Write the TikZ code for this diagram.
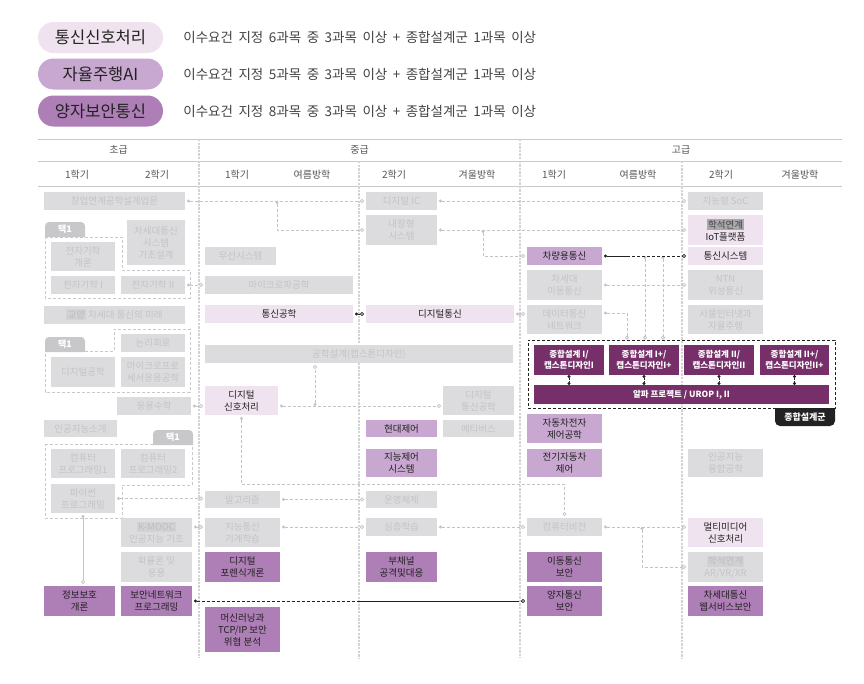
\documentclass[tikz,border=0pt]{standalone}
\usepackage{fontspec}
\setmainfont{Noto Sans CJK KR}
\usepackage{xcolor}
\usetikzlibrary{arrows.meta, positioning}

\definecolor{boxgray}{HTML}{DCDCDE}
\definecolor{txtgray}{HTML}{C4C4C6}
\definecolor{taggray}{HTML}{D2D2D4}
\definecolor{tagtxt}{HTML}{BDBDBF}
\definecolor{tagmid}{HTML}{A8A8AA}
\definecolor{pinkbg}{HTML}{F0E3F0}
\definecolor{lilac}{HTML}{C8A7D1}
\definecolor{purp}{HTML}{AE7EB6}
\definecolor{darkpurp}{HTML}{772F6A}
\definecolor{linegray}{HTML}{C4C4C6}
\definecolor{rulegray}{HTML}{C9C9CB}
\definecolor{divgray}{HTML}{D4D4D6}
\definecolor{tabgray}{HTML}{C8C8CA}
\definecolor{inkdark}{HTML}{222222}
\definecolor{hdrtxt}{HTML}{555555}
\definecolor{notetxt}{HTML}{444444}

\newcommand{\hltag}[3]{{\setlength{\fboxsep}{1.2pt}\colorbox{#1}{\textcolor{#2}{#3}}}}

\begin{document}
\begin{tikzpicture}[
  x=1pt, y=-1pt,
  font=\fontsize{9.5}{12}\selectfont,
  box/.style={minimum height=18pt, inner sep=0pt, outer sep=2pt, align=center},
  gbox/.style={box, fill=boxgray, text=txtgray},
  pbox/.style={box, fill=pinkbg, text=inkdark},
  lbox/.style={box, fill=lilac, text=inkdark},
  qbox/.style={box, fill=purp, text=inkdark},
  dbox/.style={box, outer sep=0pt, fill=darkpurp, text=white, font=\fontsize{8.5}{11}\selectfont\bfseries},
  wd/.style={minimum width=#1},
  ht/.style={minimum height=#1},
  pill/.style={rounded corners=15.5pt, minimum width=125pt, minimum height=31pt,
    inner sep=0pt, text=inkdark, font=\fontsize{16.5}{20}\selectfont},
  note/.style={inner sep=0pt, text=notetxt, font={\fontsize{13.5}{16}\selectfont\spaceskip=5.5pt plus 1pt}},
  hdr/.style={text=hdrtxt, font=\fontsize{10}{12}\selectfont},
  rule/.style={draw=rulegray, line width=0.8pt},
  divider/.style={draw=divgray, line width=2.6pt, dash pattern=on 2.4pt off 1.2pt},
  grp/.style={draw=rulegray, line width=0.8pt, dash pattern=on 3pt off 2pt},
  tabtxt/.style={text=white, font=\fontsize{9}{11}\selectfont\bfseries},
  link/.style={draw=linegray, line width=0.8pt, dash pattern=on 3pt off 2pt,
    {Circle[length=3pt]}-{Circle[open, length=4pt]}},
  blink/.style={link, draw=inkdark},
  stub/.style={draw=inkdark, line width=0.8pt, dash pattern=on 2pt off 1.5pt,
    {Circle[length=3pt]}-{Circle[length=3pt]}}
]
\fill[white, use as bounding box] (0,0) rectangle (864,683);

% Legend
\node[pill, fill=pinkbg] (p1) at (100.5,37.5) {통신신호처리};
\node[pill, fill=lilac] (p2) at (100.5,74) {자율주행AI};
\node[pill, fill=purp] (p3) at (100.5,111) {양자보안통신};
\node[note, right=20pt of p1] (n1) {이수요건 지정 6과목 중 3과목 이상 + 종합설계군 1과목 이상};
\node[note, right=20pt of p2] (n2) {이수요건 지정 5과목 중 3과목 이상 + 종합설계군 1과목 이상};
\node[note, right=20pt of p3] (n3) {이수요건 지정 8과목 중 3과목 이상 + 종합설계군 1과목 이상};

% Header
\draw[rule] (38,139) -- (842,139);
\draw[rule] (38,161) -- (842,161);
\draw[rule] (38,186) -- (842,186);
\node[hdr] (lvA) at (118.5,150) {초급};
\node[hdr] (lvB) at (359.5,150) {중급};
\node[hdr] (lvC) at (681,150) {고급};
\node[hdr] (s1) at (77,175) {1학기};
\node[hdr] (s2) at (157,175) {2학기};
\node[hdr] (s3) at (237,175) {1학기};
\node[hdr] (s4) at (312,175) {여름방학};
\node[hdr] (s5) at (394,175) {2학기};
\node[hdr] (s6) at (477,175) {겨울방학};
\node[hdr] (s7) at (554,175) {1학기};
\node[hdr] (s8) at (638,175) {여름방학};
\node[hdr] (s9) at (721,175) {2학기};
\node[hdr] (s10) at (800,175) {겨울방학};

\foreach \x/\y [count=\i] in {199/139, 359/161, 520/139, 682/161}
  \draw[divider] (\x,\y) coordinate (dv\i) -- (\x,658);

% 택1 groups
\draw[grp] (45,237) -- (122,237) -- (122,270) -- (190,270) -- (190,298) -- (45,298) -- cycle;
\draw[grp] (45,351) -- (114,351) -- (114,329) -- (190,329) -- (190,392) -- (45,392) -- cycle;
\draw[grp] (45,444) -- (192,444) -- (192,485) -- (122,485) -- (122,518) -- (45,518) -- cycle;
\foreach \x/\y [count=\i] in {45/222, 45/337, 153/430} {
  \fill[tabgray] (\x,\y+15) -- (\x,\y+4) arc[start angle=180, end angle=90, radius=4pt]
    -- (\x+36,\y) arc[start angle=90, end angle=0, radius=4pt] -- (\x+40,\y+15) -- cycle;
  \node[tabtxt] (tab\i) at (\x+20,\y+7.5) {택1};
}

% Nodes: 초급
\node[gbox, wd=141pt] (cy) at (114.5,201) {창업연계공학설계입문};
\node[gbox, wd=58pt, ht=45pt] (ns) at (156,242.5) {차세대통신\\시스템\\기초설계};
\node[gbox, wd=64pt, ht=29pt] (ea) at (83,256.5) {전자기학\\개론};
\node[gbox, wd=64pt] (e1) at (83,285) {전자기학 I};
\node[gbox, wd=64pt] (e2) at (153,285) {전자기학 II};
\node[gbox, wd=141pt] (gy) at (114.5,314.5) {\hltag{taggray}{tagtxt}{교양} 차세대 통신의 미래};
\node[gbox, wd=64pt] (lc) at (153,343) {논리회로};
\node[gbox, wd=64pt, ht=30pt] (dg) at (83,372) {디지털공학};
\node[gbox, wd=64pt, ht=30pt] (mp) at (153,372) {마이크로프로\\세서응용공학};
\node[gbox, wd=74pt] (am) at (154,406) {응용수학};
\node[gbox, wd=73pt, ht=17pt] (ai) at (80.5,428.5) {인공지능소개};
\node[gbox, wd=64pt, ht=29pt] (cp1) at (83,463.5) {컴퓨터\\프로그래밍1};
\node[gbox, wd=64pt, ht=29pt] (cp2) at (153,463.5) {컴퓨터\\프로그래밍2};
\node[gbox, wd=64pt, ht=29pt] (py) at (83,498.5) {파이썬\\프로그래밍};
\node[gbox, wd=71pt, ht=29pt] (km) at (156.5,532.5) {\hltag{taggray}{tagtxt}{K-MOOC}\\인공지능 기초};
\node[gbox, wd=71pt, ht=30pt] (pr) at (156.5,567) {확률론 및\\응용};
\node[qbox, wd=71pt, ht=30pt] (ib) at (79.5,601) {정보보호\\개론};
\node[qbox, wd=71pt, ht=30pt] (bn) at (156.5,601) {보안네트워크\\프로그래밍};

% Nodes: 중급
\node[gbox, wd=71pt] (ws) at (240.5,256) {무선시스템};
\node[gbox, wd=148pt] (mw) at (279,285) {마이크로파공학};
\node[pbox, wd=148pt] (tc) at (279,314) {통신공학};
\node[gbox, wd=308pt] (gd) at (359,354) {공학설계(캡스톤디자인)};
\node[pbox, wd=73pt, ht=29pt] (dsp) at (241.5,400.5) {디지털\\신호처리};
\node[gbox, wd=75pt, ht=17pt] (alg) at (242.5,499.5) {알고리즘};
\node[gbox, wd=75pt, ht=29pt] (ml) at (242.5,532.5) {지능통신\\기계학습};
\node[qbox, wd=75pt, ht=30pt] (df) at (242.5,567) {디지털\\포렌식개론};
\node[qbox, wd=75pt, ht=45pt] (mt) at (242.5,629.5) {머신러닝과\\TCP/IP 보안\\위협 분석};
\node[gbox, wd=71pt] (dic) at (401.5,201) {디지털 IC};
\node[gbox, wd=71pt, ht=30pt] (nj) at (401.5,230) {내장형\\시스템};
\node[pbox, wd=148pt] (dc) at (440,314) {디지털통신};
\node[gbox, wd=71pt, ht=29pt] (dce) at (478.5,400.5) {디지털\\통신공학};
\node[lbox, wd=71pt, ht=17pt] (mc) at (401.5,428.5) {현대제어};
\node[gbox, wd=71pt, ht=17pt] (mv) at (478.5,428.5) {메타버스};
\node[lbox, wd=71pt, ht=28pt] (ic) at (401.5,463) {지능제어\\시스템};
\node[gbox, wd=71pt, ht=17pt] (os) at (401.5,499.5) {운영체제};
\node[gbox, wd=71pt] (dl) at (401.5,527) {심층학습};
\node[qbox, wd=71pt, ht=30pt] (sc) at (401.5,567) {부채널\\공격및대응};

% Nodes: 고급
\node[lbox, wd=75pt] (cr) at (564.5,256) {차량용통신};
\node[gbox, wd=75pt, ht=30pt] (nm) at (564.5,285) {차세대\\이동통신};
\node[gbox, wd=75pt, ht=29pt] (dn) at (564.5,319.5) {데이터통신\\네트워크};
\node[lbox, wd=75pt, ht=29pt] (ae) at (564.5,428.5) {자동차전자\\제어공학};
\node[lbox, wd=75pt, ht=28pt] (ev) at (564.5,463) {전기자동차\\제어};
\node[gbox, wd=75pt] (cv) at (564.5,527) {컴퓨터비전};
\node[qbox, wd=75pt, ht=30pt] (ms) at (564.5,567) {이동통신\\보안};
\node[qbox, wd=75pt, ht=30pt] (qs) at (564.5,601) {양자통신\\보안};
\node[gbox, wd=75pt] (soc) at (725.5,201) {지능형 SoC};
\node[pbox, wd=75pt, ht=30pt] (iot) at (725.5,230) {\hltag{tagmid}{notetxt}{학석연계}\\IoT플랫폼};
\node[pbox, wd=75pt] (cs) at (725.5,256) {통신시스템};
\node[gbox, wd=75pt, ht=30pt] (ntn) at (725.5,285) {NTN\\위성통신};
\node[gbox, wd=75pt, ht=29pt] (it) at (725.5,319.5) {사물인터넷과\\자율주행};
\node[gbox, wd=75pt, ht=28pt] (ac) at (725.5,463) {인공지능\\융합공학};
\node[pbox, wd=75pt, ht=29pt] (mm) at (725.5,532.5) {멀티미디어\\신호처리};
\node[gbox, wd=75pt, ht=30pt] (ar) at (725.5,567) {\hltag{taggray}{tagtxt}{학석연계}\\AR/VR/XR};
\node[qbox, wd=75pt, ht=30pt] (nw) at (725.5,601) {차세대통신\\웹서비스보안};

% 종합설계군
\node[draw=inkdark, line width=0.8pt, dash pattern=on 3pt off 2pt, minimum width=307pt,
  minimum height=68pt, inner sep=0pt] (zgrp) at (681.5,374) {};
\node[dbox, wd=70pt, ht=30pt] (z1) at (569,360) {종합설계 I/\\캡스톤디자인I};
\node[dbox, wd=70pt, ht=30pt] (z2) at (644,360) {종합설계 I+/\\캡스톤디자인I+};
\node[dbox, wd=70pt, ht=30pt] (z3) at (719,360) {종합설계 II/\\캡스톤디자인II};
\node[dbox, wd=69pt, ht=30pt] (z4) at (794.5,360) {종합설계 II+/\\캡스톤디자인II+};
\node[dbox, wd=295pt, ht=19pt] (ap) at (681.5,394.5) {알파 프로젝트 / UROP I, II};
\fill[inkdark] (775,408) -- (775,421) arc[start angle=180, end angle=270, radius=5pt]
  -- (830,426) arc[start angle=270, end angle=360, radius=5pt] -- (835,408) -- cycle;
\node[tabtxt] (zlbl) at (805,417) {종합설계군};

% Pointers
\coordinate (j1) at (277,201);
\coordinate (j2) at (483,230);
\coordinate (j3) at (315,406);
\coordinate (j5) at (642,527);
\coordinate (j6) at (645,256);
\coordinate (j7) at (663,256);
\coordinate (dnx) at ([xshift=-54.5pt]zgrp.north);

\draw[link] (cy.east) -- (dic.west);
\draw[link] (j1) |- (nj.west);
\draw[link] (dic.east) -- (soc.west);
\draw[link] (nj.east) -- (iot.west);
\draw[link] (j2) |- (cr.west);
\draw[link] (e2.east) -- (mw.west);
\draw[blink] (tc.east) -- (dc.west);
\draw[link] (dc.east) -- (dc.east -| dn.west);
\draw[link] (am.east) -- (am.east -| dsp.west);
\draw[link] (am.east -| dsp.east) -- (am.east -| dce.west);
\draw[link] (j3) -- (j3 |- gd.south);
\draw[link] (dsp.south) -- ++(0,67) -| (cv.north);
\draw[link] (py.east) -- (py.east -| alg.west);
\draw[link, solid] (py.south) -- (py.south |- ib.north);
\draw[link] ([yshift=5.5pt]km.east) -- ([yshift=5.5pt]km.east -| ml.west);
\draw[link] (alg.east) -- (os.west);
\draw[link] ([yshift=5.5pt]ml.east) -- (dl.west);
\draw[link] (dl.east) -- (cv.west);
\draw[link] (cv.east) -- (cv.east -| mm.west);
\draw[link] (j5) |- (ar.west);
\draw[link] (nm.east) -- (ntn.west);
\draw[link] ([yshift=6.5pt]dn.east) -| (dnx);
\draw[link] (j6) -- (j6 |- zgrp.north);
\draw[link] (j7) -- (j7 |- zgrp.north);
\draw[blink, solid, {Circle[length=3pt]}-] (cr.east) -- (cr.east -| dnx);
\draw[blink, -{Circle[open, length=4pt]}] (cr.east -| dnx) -- (cs.west);
\draw[blink, {Circle[length=3pt]}-] (bn.east) -- (bn.east -| dv2);
\draw[blink, solid, -] (bn.east -| dv2) -- (bn.east -| mv.east);
\draw[blink, -{Circle[open, length=4pt]}] (bn.east -| mv.east) -- (qs.west);
\foreach \z in {z1, z2, z3, z4}
  \draw[stub] (\z.south) -- (\z.south |- ap.north);
\end{tikzpicture}
\end{document}
